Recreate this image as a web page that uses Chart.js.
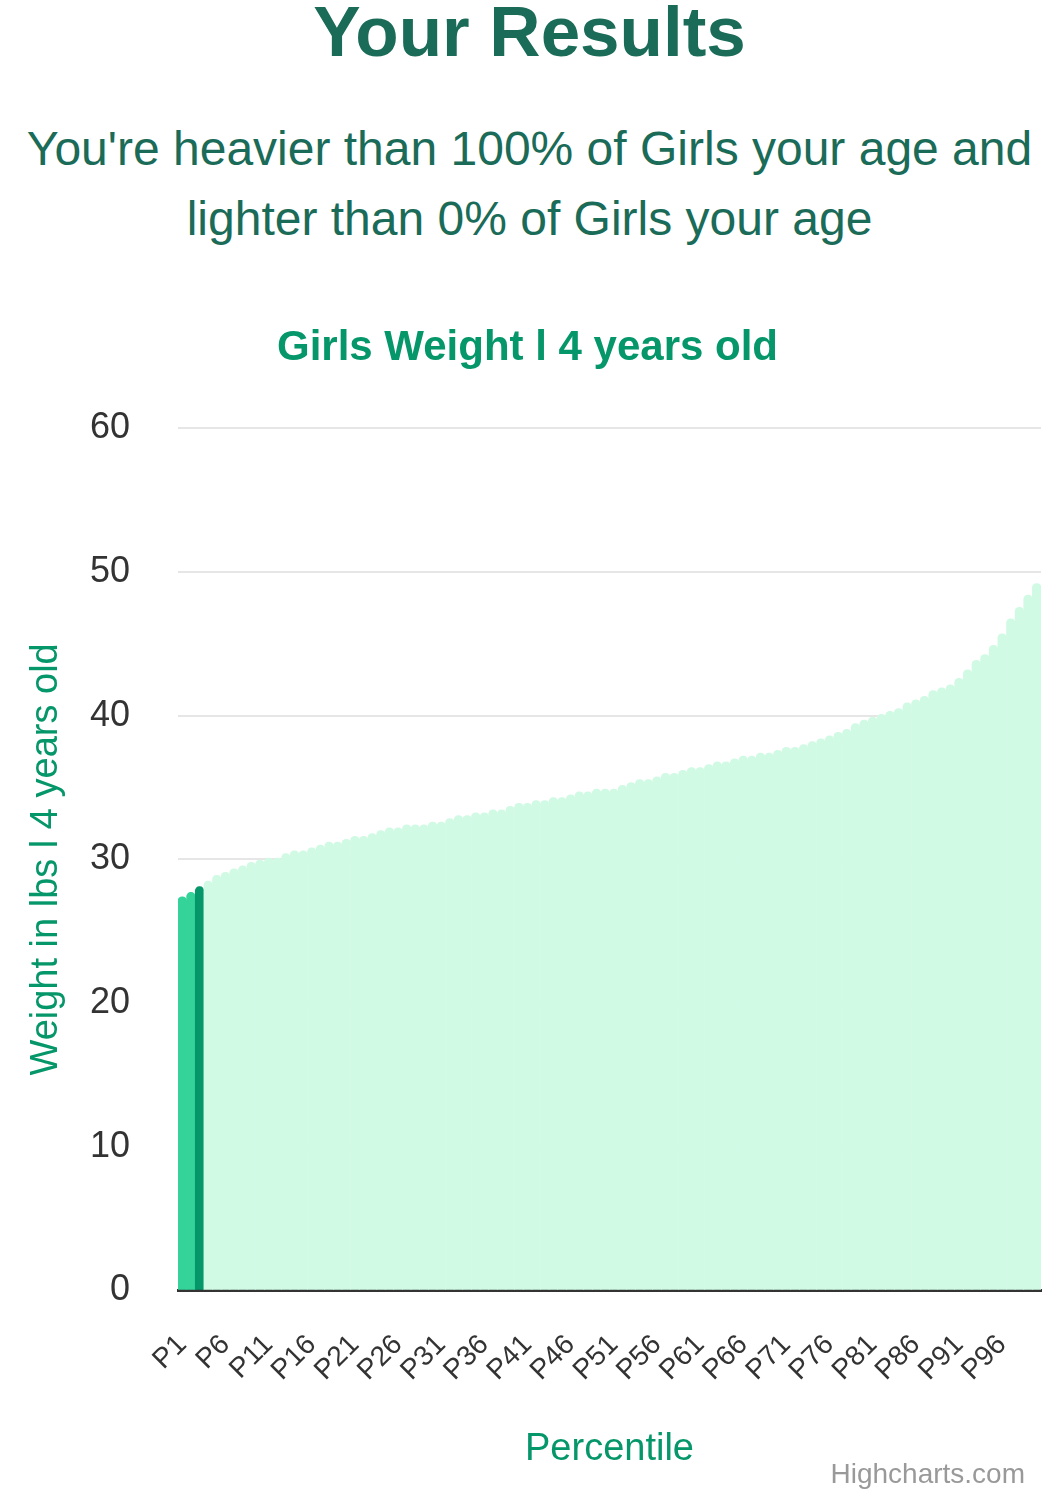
<!DOCTYPE html>
<html>
<head>
<meta charset="utf-8">
<script src="https://cdn.jsdelivr.net/npm/chart.js@4"></script>
<style>
  body { margin: 0; background: #fff; font-family: "Liberation Sans", Arial, sans-serif; }
  h1 { margin: 0; position: absolute; top: -6px; left: 0; width: 1059px; text-align: center;
       font-size: 71px; color: #1a6b57; font-weight: bold; line-height: 76px; }
  .sub { position: absolute; top: 114px; left: 0; width: 1059px; text-align: center;
         font-size: 48px; line-height: 70px; color: #1a6b57; }
  .wrap { position: absolute; top: 300px; left: 0; width: 1059px; height: 1200px; }
  .credit { position: absolute; top: 1458px; right: 34px; font-size: 28px; color: #999; }
</style>
</head>
<body>
<h1>Your Results</h1>
<div class="sub">You're heavier than 100% of Girls your age and<br>lighter than 0% of Girls your age</div>
<div class="wrap"><canvas id="chart"></canvas></div>
<div class="credit">Highcharts.com</div>
<script>
// percentile categories P1..P100
const categories = Array.from({ length: 100 }, (_, i) => 'P' + (i + 1));

// weight in lbs
const weights = [
  27.4, 27.7, 28.1, 28.5, 28.9, 29.1, 29.35, 29.55, 29.8, 29.95,
  30.1, 30.1, 30.4, 30.6, 30.6, 30.8, 31.0, 31.2, 31.2, 31.4,
  31.6, 31.6, 31.8, 32.0, 32.2, 32.2, 32.4, 32.4, 32.4, 32.6,
  32.6, 32.85, 33.05, 33.05, 33.25, 33.25, 33.45, 33.45, 33.7, 33.9,
  33.9, 34.1, 34.1, 34.3, 34.3, 34.5, 34.7, 34.7, 34.9, 34.9,
  34.9, 35.15, 35.35, 35.55, 35.55, 35.75, 36.0, 36.0, 36.2, 36.4,
  36.4, 36.6, 36.8, 36.8, 37.0, 37.2, 37.2, 37.4, 37.4, 37.6,
  37.8, 37.8, 38.0, 38.2, 38.4, 38.6, 38.85, 39.05, 39.45, 39.7,
  39.9, 40.1, 40.3, 40.5, 40.9, 41.1, 41.35, 41.75, 41.95, 42.15,
  42.6, 43.2, 43.85, 44.25, 44.9, 45.7, 46.75, 47.55, 48.4, 49.2
];

const yTicks = [0, 10, 20, 30, 40, 50, 60];
const userIndex = 2; // highlighted bar (P3)

const green = '#059669';

new Chart(document.getElementById('chart'), {
  type: 'bar',
  data: {
    labels: categories,
    datasets: [{
      label: 'Weight',
      data: weights,
      backgroundColor: ctx => ctx.dataIndex < userIndex ? '#34d399'
        : ctx.dataIndex === userIndex ? green : '#d1fae5',
      borderRadius: { topLeft: 5, topRight: 5 },
      borderSkipped: 'bottom',
      barPercentage: 1,
      categoryPercentage: 1
    }]
  },
  options: {
    responsive: true,
    maintainAspectRatio: false,
    animation: false,
    layout: { padding: { left: 14, right: 18, top: 10, bottom: 14 } },
    plugins: {
      legend: { display: false },
      tooltip: { enabled: false },
      title: {
        display: true,
        text: 'Girls Weight l 4 years old',
        color: green,
        font: { family: 'Liberation Sans', size: 42, weight: 'bold' },
        padding: { top: 13, bottom: 55 }
      }
    },
    scales: {
      x: {
        grid: { display: false },
        border: { color: '#333', width: 3 },
        afterFit: axis => { axis.paddingLeft = 0; axis.paddingRight = 0; },
        ticks: {
          autoSkip: false,
          minRotation: 45,
          maxRotation: 45,
          padding: 30,
          color: '#333',
          font: { family: 'Liberation Sans', size: 28 },
          callback: (v, i) => i % 5 === 0 ? categories[i] : ''
        },
        title: {
          display: true,
          text: 'Percentile',
          color: green,
          font: { family: 'Liberation Sans', size: 38 },
          padding: { top: 9, bottom: 14 }
        }
      },
      y: {
        min: 0,
        max: 60,
        afterBuildTicks: axis => { axis.ticks = yTicks.map(v => ({ value: v })); },
        afterFit: axis => { axis.width = 164; },
        grid: { color: '#e6e6e6', lineWidth: 2, drawTicks: false },
        border: { display: false },
        ticks: {
          color: '#333',
          padding: 48,
          font: { family: 'Liberation Sans', size: 36 }
        },
        title: {
          display: true,
          text: 'Weight in lbs l 4 years old',
          color: green,
          font: { family: 'Liberation Sans', size: 38 },
          padding: { top: 10, bottom: 20 }
        }
      }
    }
  }
});
</script>
</body>
</html>
